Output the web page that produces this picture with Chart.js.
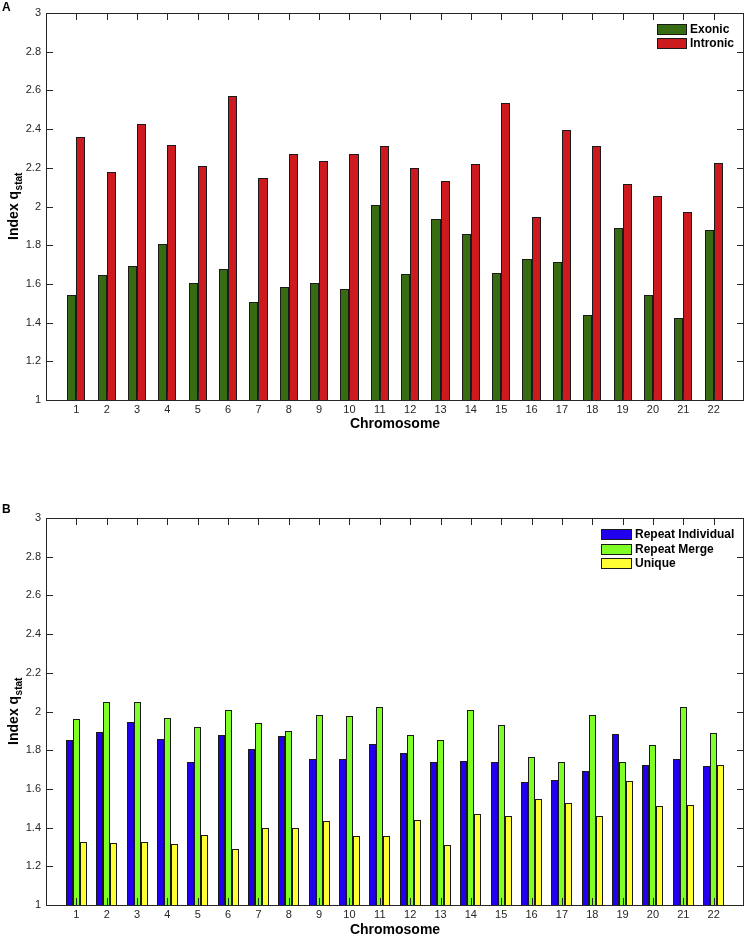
<!DOCTYPE html>
<html>
<head>
<meta charset="utf-8">
<script src="https://cdn.jsdelivr.net/npm/chart.js@4.4.1/dist/chart.umd.min.js"></script>
<style>
html, body { margin: 0; padding: 0; background: #ffffff; }
#wrap { position: relative; width: 747px; height: 937px; }
canvas { position: absolute; left: 0; }
</style>
</head>
<body>
<div id="wrap">
  <canvas id="chartA" width="747" height="440" style="top:0px"></canvas>
  <canvas id="chartB" width="747" height="497" style="top:440px"></canvas>
</div>
<script>
// ---------------- data ----------------
const chromosomes = ['1','2','3','4','5','6','7','8','9','10','11','12','13','14','15','16','17','18','19','20','21','22'];

const exonic   = [1.545, 1.647, 1.691, 1.807, 1.605, 1.678, 1.509, 1.583, 1.603, 1.572, 2.007,
                  1.650, 1.933, 1.857, 1.655, 1.729, 1.712, 1.440, 1.890, 1.541, 1.422, 1.879];
const intronic = [2.360, 2.176, 2.424, 2.317, 2.210, 2.571, 2.147, 2.271, 2.233, 2.271, 2.314,
                  2.198, 2.134, 2.221, 2.533, 1.948, 2.397, 2.314, 2.114, 2.053, 1.971, 2.224];

const repeatIndividual = [1.853, 1.893, 1.948, 1.857, 1.738, 1.876, 1.805, 1.871, 1.753, 1.755, 1.831,
                          1.784, 1.740, 1.743, 1.740, 1.634, 1.648, 1.691, 1.884, 1.724, 1.752, 1.719];
const repeatMerge      = [1.962, 2.048, 2.047, 1.967, 1.919, 2.007, 1.943, 1.900, 1.981, 1.978, 2.021,
                          1.876, 1.855, 2.010, 1.928, 1.767, 1.738, 1.984, 1.740, 1.826, 2.022, 1.891];
const unique           = [1.326, 1.321, 1.324, 1.316, 1.362, 1.288, 1.397, 1.400, 1.433, 1.355, 1.359,
                          1.441, 1.310, 1.469, 1.462, 1.550, 1.528, 1.459, 1.641, 1.510, 1.517, 1.721];

const yMin = 1, yMax = 3, yStep = 0.2;
const xTitle = 'Chromosome';
const yTitleMain = 'Index q';
const yTitleSub = 'stat';

// ---------------- helpers ----------------
const xLabels = [''].concat(chromosomes, ['']);
const pad = arr => [null].concat(arr, [null]);
const FONT = '"Liberation Sans", Arial, Helvetica, sans-serif';
const AXIS_COLOR = '#262626';

// snap the library-computed bar rectangles to whole pixels for crisp edges
const snapPlugin = {
  id: 'snap',
  beforeDatasetsDraw(chart) {
    chart.data.datasets.forEach((ds, di) => {
      const meta = chart.getDatasetMeta(di);
      meta.data.forEach(el => {
        if (el.skip || el.width == null || isNaN(el.x)) return;
        const l = Math.round(el.x - el.width / 2);
        const r = Math.round(el.x + el.width / 2);
        el.x = (l + r) / 2;
        el.width = r - l;
        el.y = Math.round(el.y);
        el.base = Math.round(el.base) + 1;
      });
    });
  }
};

const decorPlugin = {
  id: 'decor',
  afterDatasetsDraw(chart, args, o) {
    const { ctx, chartArea: a, scales: { x, y } } = chart;
    ctx.save();
    ctx.strokeStyle = AXIS_COLOR;
    ctx.lineWidth = 1;
    // frame
    ctx.strokeRect(Math.round(a.left) + 0.5, Math.round(a.top) + 0.5,
                   Math.round(a.right - a.left) - 1, Math.round(a.bottom - a.top));
    // inward ticks
    const L = 7;
    ctx.beginPath();
    chromosomes.forEach((c, i) => {
      const px = Math.round(x.getPixelForValue(i + 1)) + 0.5;
      ctx.moveTo(px, a.top); ctx.lineTo(px, a.top + L);
      ctx.moveTo(px, a.bottom); ctx.lineTo(px, a.bottom - L);
    });
    y.ticks.forEach(t => {
      const py = Math.round(y.getPixelForValue(t.value)) + 0.5;
      ctx.moveTo(a.left, py); ctx.lineTo(a.left + L, py);
      ctx.moveTo(a.right, py); ctx.lineTo(a.right - L, py);
    });
    ctx.stroke();

    // legend
    const lg = o.legend;
    ctx.font = 'bold ' + lg.fontSize + 'px ' + FONT;
    ctx.textBaseline = 'middle';
    ctx.textAlign = 'left';
    chart.data.datasets.forEach((ds, i) => {
      const by = Math.round(lg.y + i * lg.pitch);
      ctx.fillStyle = ds.backgroundColor;
      ctx.fillRect(lg.x, by, lg.w, lg.h);
      ctx.strokeStyle = '#1a1a1a';
      ctx.strokeRect(lg.x + 0.5, by + 0.5, lg.w - 1, lg.h - 1);
      ctx.fillStyle = '#000000';
      ctx.fillText(ds.label, lg.x + lg.w + 3, by + lg.h / 2 + 0.5);
    });

    // x title
    ctx.fillStyle = '#000000';
    ctx.font = 'bold 14px ' + FONT;
    ctx.textAlign = 'center';
    ctx.textBaseline = 'middle';
    ctx.fillText(xTitle, (a.left + a.right) / 2, o.xTitleY);

    // y title (rotated, with subscript)
    const cy = (a.top + a.bottom) / 2;
    ctx.save();
    ctx.translate(o.yTitleX, cy);
    ctx.rotate(-Math.PI / 2);
    ctx.textBaseline = 'alphabetic';
    ctx.textAlign = 'left';
    const fMain = 'bold 14px ' + FONT, fSub = 'bold 10px ' + FONT;
    ctx.font = fMain; const w1 = ctx.measureText(yTitleMain).width;
    ctx.font = fSub;  const w2 = ctx.measureText(yTitleSub).width;
    const start = -(w1 + w2) / 2;
    ctx.font = fMain; ctx.fillText(yTitleMain, start, 0);
    ctx.font = fSub;  ctx.fillText(yTitleSub, start + w1 + 0.5, 4);
    ctx.restore();

    // panel letter
    ctx.font = 'bold 12px ' + FONT;
    ctx.textAlign = 'left';
    ctx.textBaseline = 'middle';
    ctx.fillStyle = '#000000';
    ctx.fillText(o.panel, 2, o.panelY);
    ctx.restore();
  }
};

function makeChart(id, datasets, catPct, topPad, xHeight, decor) {
  return new Chart(document.getElementById(id), {
    type: 'bar',
    data: { labels: xLabels, datasets: datasets },
    plugins: [snapPlugin, decorPlugin],
    options: {
      responsive: false,
      animation: false,
      devicePixelRatio: 1,
      layout: { padding: { left: 0, right: 2, top: topPad, bottom: 0 } },
      datasets: { bar: { categoryPercentage: catPct, barPercentage: 1, borderWidth: 1,
                         borderColor: '#1a1a1a', borderSkipped: false, inflateAmount: 0 } },
      plugins: { legend: { display: false }, tooltip: { enabled: false }, decor: decor },
      scales: {
        x: {
          type: 'category',
          offset: false,
          grid: { display: false, drawTicks: false },
          border: { display: false },
          ticks: { autoSkip: false, maxRotation: 0, padding: 3, color: AXIS_COLOR,
                   font: { family: FONT, size: 11 } },
          afterFit: s => { s.height = xHeight; }
        },
        y: {
          min: yMin, max: yMax,
          grid: { display: false, drawTicks: false },
          border: { display: false },
          ticks: { stepSize: yStep, padding: 5, color: AXIS_COLOR,
                   font: { family: FONT, size: 11 },
                   callback: v => String(Number(v.toFixed(1))) },
          afterFit: s => { s.width = 46; }
        }
      }
    }
  });
}

makeChart('chartA', [
  { label: 'Exonic',   data: pad(exonic),   backgroundColor: '#386c12' },
  { label: 'Intronic', data: pad(intronic), backgroundColor: '#cc1a1e' }
], 0.6, 13, 40, {
  legend: { x: 657, y: 24, w: 30, h: 11, pitch: 14, fontSize: 12 },
  xTitleY: 424, yTitleX: 18, panel: 'A', panelY: 7.5
});

makeChart('chartB', [
  { label: 'Repeat Individual', data: pad(repeatIndividual), backgroundColor: '#2000ee' },
  { label: 'Repeat Merge',      data: pad(repeatMerge),      backgroundColor: '#80ff26' },
  { label: 'Unique',            data: pad(unique),           backgroundColor: '#ffff33' }
], 0.69, 78, 32, {
  legend: { x: 601, y: 89, w: 31, h: 11, pitch: 14.7, fontSize: 12 },
  xTitleY: 490, yTitleX: 18, panel: 'B', panelY: 70
});
</script>
</body>
</html>
